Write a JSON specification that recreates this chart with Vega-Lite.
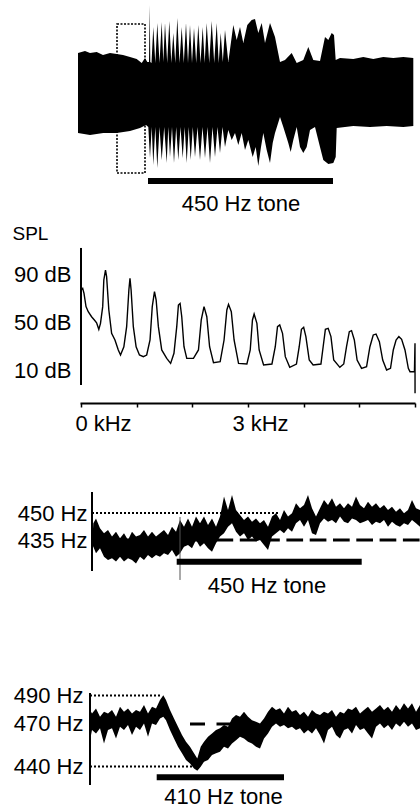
{
"$schema": "https://vega.github.io/schema/vega-lite/v6.json",
"background": "white",
"padding": {"left": 12, "top": 0, "right": 0, "bottom": 0},
"config": {"view": {"stroke": null}, "font": "Liberation Sans", "axis": {"grid": false, "labelColor": "black", "titleColor": "black", "labelFont": "Liberation Sans", "titleFont": "Liberation Sans"}},
"bounds": "flush",
"spacing": 0,
"datasets": {
"wave": [
{"side":"u","t":0,"amp":40},{"side":"u","t":7,"amp":42},{"side":"u","t":12,"amp":40},{"side":"u","t":18.7,"amp":41},{"side":"u","t":25,"amp":38},{"side":"u","t":32,"amp":40},{"side":"u","t":38.7,"amp":39},{"side":"u","t":45,"amp":38},{"side":"u","t":52,"amp":36},{"side":"u","t":58.7,"amp":34},{"side":"u","t":63.7,"amp":30},{"side":"u","t":67,"amp":35},{"side":"u","t":69.3,"amp":31},{"side":"u","t":71,"amp":31},{"side":"u","t":71.7,"amp":88},{"side":"u","t":72.3,"amp":31},{"side":"u","t":73.5,"amp":30},{"side":"u","t":75.3,"amp":66},{"side":"u","t":77.3,"amp":30},{"side":"u","t":79.3,"amp":70},{"side":"u","t":81.5,"amp":30},{"side":"u","t":83.7,"amp":71},{"side":"u","t":85.3,"amp":31},{"side":"u","t":87,"amp":70},{"side":"u","t":89.2,"amp":30},{"side":"u","t":91.3,"amp":72},{"side":"u","t":93.3,"amp":30},{"side":"u","t":95.3,"amp":60},{"side":"u","t":97.3,"amp":30},{"side":"u","t":99.3,"amp":75},{"side":"u","t":101.5,"amp":30},{"side":"u","t":103.7,"amp":66},{"side":"u","t":105.8,"amp":30},{"side":"u","t":108,"amp":70},{"side":"u","t":110,"amp":30},{"side":"u","t":112,"amp":68},{"side":"u","t":114,"amp":30},{"side":"u","t":116,"amp":65},{"side":"u","t":118.2,"amp":30},{"side":"u","t":120.3,"amp":68},{"side":"u","t":122.5,"amp":30},{"side":"u","t":124.7,"amp":66},{"side":"u","t":126.7,"amp":30},{"side":"u","t":128.7,"amp":70},{"side":"u","t":131.2,"amp":30},{"side":"u","t":133.7,"amp":72},{"side":"u","t":136.2,"amp":30},{"side":"u","t":138.7,"amp":70},{"side":"u","t":140.7,"amp":30},{"side":"u","t":142.7,"amp":60},{"side":"u","t":144.8,"amp":31},{"side":"u","t":147,"amp":63},{"side":"u","t":150.3,"amp":31},{"side":"u","t":155.3,"amp":68},{"side":"u","t":158.7,"amp":53},{"side":"u","t":162,"amp":66},{"side":"u","t":165.3,"amp":50},{"side":"u","t":169.3,"amp":68},{"side":"u","t":173.7,"amp":73},{"side":"u","t":177,"amp":74},{"side":"u","t":180.3,"amp":60},{"side":"u","t":183.7,"amp":70},{"side":"u","t":187,"amp":50},{"side":"u","t":192,"amp":70},{"side":"u","t":197,"amp":56},{"side":"u","t":202,"amp":31},{"side":"u","t":207,"amp":33},{"side":"u","t":213.7,"amp":40},{"side":"u","t":218.7,"amp":30},{"side":"u","t":225.3,"amp":33},{"side":"u","t":230.3,"amp":46},{"side":"u","t":235.3,"amp":33},{"side":"u","t":242,"amp":32},{"side":"u","t":247,"amp":56},{"side":"u","t":250.3,"amp":53},{"side":"u","t":253.7,"amp":60},{"side":"u","t":256,"amp":58},{"side":"u","t":257.7,"amp":33},{"side":"u","t":262,"amp":35},{"side":"u","t":275.3,"amp":34},{"side":"u","t":285.3,"amp":36},{"side":"u","t":295.3,"amp":34},{"side":"u","t":305.3,"amp":36},{"side":"u","t":315.3,"amp":35},{"side":"u","t":325.3,"amp":36},{"side":"u","t":335.3,"amp":35},
{"side":"l","t":0,"amp":-40},{"side":"l","t":12,"amp":-42},{"side":"l","t":25.3,"amp":-40},{"side":"l","t":38.7,"amp":-40},{"side":"l","t":52,"amp":-38},{"side":"l","t":62,"amp":-35},{"side":"l","t":68,"amp":-32},{"side":"l","t":70.3,"amp":-34},{"side":"l","t":72,"amp":-65},{"side":"l","t":73.7,"amp":-34},{"side":"l","t":75.3,"amp":-72},{"side":"l","t":77.3,"amp":-34},{"side":"l","t":79.3,"amp":-75},{"side":"l","t":81.5,"amp":-34},{"side":"l","t":83.7,"amp":-67},{"side":"l","t":86.2,"amp":-34},{"side":"l","t":88.7,"amp":-70},{"side":"l","t":90.3,"amp":-34},{"side":"l","t":92,"amp":-64},{"side":"l","t":94,"amp":-34},{"side":"l","t":96,"amp":-70},{"side":"l","t":98.2,"amp":-34},{"side":"l","t":100.3,"amp":-67},{"side":"l","t":102.5,"amp":-34},{"side":"l","t":104.7,"amp":-65},{"side":"l","t":106.7,"amp":-34},{"side":"l","t":108.7,"amp":-70},{"side":"l","t":110.7,"amp":-34},{"side":"l","t":112.7,"amp":-67},{"side":"l","t":114.8,"amp":-34},{"side":"l","t":117,"amp":-64},{"side":"l","t":119.5,"amp":-34},{"side":"l","t":122,"amp":-67},{"side":"l","t":124.5,"amp":-34},{"side":"l","t":127,"amp":-65},{"side":"l","t":129.5,"amp":-34},{"side":"l","t":132,"amp":-70},{"side":"l","t":134.5,"amp":-34},{"side":"l","t":137,"amp":-64},{"side":"l","t":139.5,"amp":-34},{"side":"l","t":142,"amp":-60},{"side":"l","t":144.5,"amp":-34},{"side":"l","t":147,"amp":-54},{"side":"l","t":150.3,"amp":-37},{"side":"l","t":153.7,"amp":-47},{"side":"l","t":157,"amp":-40},{"side":"l","t":160.3,"amp":-52},{"side":"l","t":163.7,"amp":-40},{"side":"l","t":167,"amp":-57},{"side":"l","t":170.3,"amp":-47},{"side":"l","t":174.7,"amp":-64},{"side":"l","t":177.7,"amp":-54},{"side":"l","t":180.3,"amp":-73},{"side":"l","t":183,"amp":-54},{"side":"l","t":185.3,"amp":-40},{"side":"l","t":188.7,"amp":-57},{"side":"l","t":192,"amp":-70},{"side":"l","t":194.7,"amp":-50},{"side":"l","t":197,"amp":-40},{"side":"l","t":202,"amp":-24},{"side":"l","t":205.3,"amp":-34},{"side":"l","t":210.3,"amp":-50},{"side":"l","t":212.7,"amp":-59},{"side":"l","t":215.3,"amp":-47},{"side":"l","t":218.7,"amp":-34},{"side":"l","t":222,"amp":-54},{"side":"l","t":225.3,"amp":-60},{"side":"l","t":228.7,"amp":-54},{"side":"l","t":232,"amp":-37},{"side":"l","t":237,"amp":-34},{"side":"l","t":242,"amp":-54},{"side":"l","t":245.3,"amp":-67},{"side":"l","t":250.3,"amp":-71},{"side":"l","t":255.3,"amp":-70},{"side":"l","t":257.7,"amp":-64},{"side":"l","t":258.7,"amp":-35},{"side":"l","t":275.3,"amp":-33},{"side":"l","t":292,"amp":-34},{"side":"l","t":308.7,"amp":-33},{"side":"l","t":325.3,"amp":-34},{"side":"l","t":335.3,"amp":-33}
],
"box": [{"t1": 39, "t2": 67, "a1": 69, "a2": -80}],
"tone1": [{"start": 70, "end": 255, "level": -88, "mid": 163, "label": "450 Hz tone"}],
"spectrum": [
{"kHz":0,"dB":76.7},{"kHz":0.03,"dB":78.1},{"kHz":0.054,"dB":73.9},{"kHz":0.09,"dB":62.8},{"kHz":0.13,"dB":58.6},{"kHz":0.19,"dB":54.4},{"kHz":0.24,"dB":51.7},{"kHz":0.28,"dB":49.4},{"kHz":0.32,"dB":43.9},{"kHz":0.35,"dB":48.9},{"kHz":0.39,"dB":62.8},{"kHz":0.41,"dB":85},{"kHz":0.44,"dB":93.3},{"kHz":0.46,"dB":87.8},{"kHz":0.5,"dB":60},{"kHz":0.55,"dB":40.6},{"kHz":0.61,"dB":35},{"kHz":0.67,"dB":26.7},{"kHz":0.71,"dB":22.5},{"kHz":0.77,"dB":29.4},{"kHz":0.82,"dB":46.1},{"kHz":0.86,"dB":76.7},{"kHz":0.88,"dB":86.4},{"kHz":0.9,"dB":76.7},{"kHz":0.94,"dB":46.1},{"kHz":0.99,"dB":29.4},{"kHz":1.05,"dB":22.5},{"kHz":1.12,"dB":21.1},{"kHz":1.18,"dB":22.5},{"kHz":1.24,"dB":35},{"kHz":1.28,"dB":62.8},{"kHz":1.32,"dB":75.3},{"kHz":1.35,"dB":68.3},{"kHz":1.39,"dB":46.1},{"kHz":1.45,"dB":26.7},{"kHz":1.54,"dB":19.7},{"kHz":1.61,"dB":15.5},{"kHz":1.67,"dB":23.9},{"kHz":1.72,"dB":46.1},{"kHz":1.75,"dB":64.2},{"kHz":1.78,"dB":65.5},{"kHz":1.81,"dB":54.4},{"kHz":1.85,"dB":29.4},{"kHz":1.9,"dB":19.7},{"kHz":2.02,"dB":19.7},{"kHz":2.11,"dB":26.7},{"kHz":2.16,"dB":51.7},{"kHz":2.21,"dB":62.8},{"kHz":2.26,"dB":54.4},{"kHz":2.31,"dB":29.4},{"kHz":2.38,"dB":16.1},{"kHz":2.5,"dB":17},{"kHz":2.57,"dB":35},{"kHz":2.62,"dB":60},{"kHz":2.65,"dB":64.7},{"kHz":2.7,"dB":58.6},{"kHz":2.75,"dB":35},{"kHz":2.83,"dB":15.5},{"kHz":2.98,"dB":15},{"kHz":3.04,"dB":26.7},{"kHz":3.08,"dB":51.7},{"kHz":3.11,"dB":56.7},{"kHz":3.16,"dB":48.9},{"kHz":3.2,"dB":26.7},{"kHz":3.28,"dB":14.2},{"kHz":3.43,"dB":15},{"kHz":3.49,"dB":29.4},{"kHz":3.53,"dB":46.1},{"kHz":3.57,"dB":47.5},{"kHz":3.62,"dB":40.6},{"kHz":3.67,"dB":21.1},{"kHz":3.75,"dB":12.2},{"kHz":3.87,"dB":15},{"kHz":3.92,"dB":29.4},{"kHz":3.96,"dB":43.9},{"kHz":4.0,"dB":45.6},{"kHz":4.04,"dB":37.8},{"kHz":4.1,"dB":18.3},{"kHz":4.17,"dB":14.2},{"kHz":4.31,"dB":15},{"kHz":4.35,"dB":29.4},{"kHz":4.39,"dB":43.9},{"kHz":4.44,"dB":44.7},{"kHz":4.49,"dB":37.8},{"kHz":4.54,"dB":18.3},{"kHz":4.65,"dB":12.2},{"kHz":4.72,"dB":15},{"kHz":4.77,"dB":29.4},{"kHz":4.82,"dB":41.9},{"kHz":4.86,"dB":42.8},{"kHz":4.91,"dB":35},{"kHz":4.96,"dB":18.3},{"kHz":5.04,"dB":11.4},{"kHz":5.13,"dB":12.8},{"kHz":5.19,"dB":29.4},{"kHz":5.25,"dB":39.2},{"kHz":5.3,"dB":40},{"kHz":5.36,"dB":33.6},{"kHz":5.42,"dB":18.3},{"kHz":5.49,"dB":10},{"kHz":5.56,"dB":11.4},{"kHz":5.61,"dB":26.7},{"kHz":5.66,"dB":35},{"kHz":5.71,"dB":37.8},{"kHz":5.76,"dB":35.6},{"kHz":5.82,"dB":26.7},{"kHz":5.88,"dB":11.4},{"kHz":5.91,"dB":8.6},{"kHz":5.99,"dB":8.6},{"kHz":6.0,"dB":32.2},{"kHz":6.001,"dB":-9.4}
],
"band3": [
{"t":12.5,"hi":436,"lo":432},{"t":13.3,"hi":444.3,"lo":431.3},{"t":16,"hi":447,"lo":427.6},{"t":20,"hi":441.5,"lo":430.4},{"t":24,"hi":438.7,"lo":425.7},{"t":28,"hi":440.6,"lo":423.9},{"t":32,"hi":436.9,"lo":424.8},{"t":36,"hi":439.6,"lo":423},{"t":40,"hi":436,"lo":425.7},{"t":44,"hi":438.7,"lo":423},{"t":48,"hi":435,"lo":424.8},{"t":52,"hi":439.6,"lo":423.9},{"t":56,"hi":436.9,"lo":422},{"t":60,"hi":437.8,"lo":425.7},{"t":64,"hi":440.6,"lo":423.9},{"t":68,"hi":436.9,"lo":426.7},{"t":72,"hi":439.6,"lo":424.8},{"t":76,"hi":436.9,"lo":426.7},{"t":80,"hi":438.7,"lo":425.7},{"t":84,"hi":440.6,"lo":427.6},{"t":88,"hi":437.8,"lo":426.7},{"t":92,"hi":442.4,"lo":429.4},{"t":96,"hi":439.6,"lo":425.7},{"t":100,"hi":446.1,"lo":427.6},{"t":104,"hi":442.4,"lo":431.3},{"t":108,"hi":447,"lo":432.2},{"t":112,"hi":442.4,"lo":430.4},{"t":116,"hi":448,"lo":435},{"t":120,"hi":444.3,"lo":431.3},{"t":124,"hi":448,"lo":433.2},{"t":128,"hi":443.3,"lo":430.4},{"t":132,"hi":447,"lo":428.5},{"t":136,"hi":442.4,"lo":433.2},{"t":140,"hi":448,"lo":436.9},{"t":144,"hi":459.1,"lo":438.7},{"t":148,"hi":451.7,"lo":442.4},{"t":152,"hi":460,"lo":444.3},{"t":156,"hi":451.7,"lo":439.6},{"t":160,"hi":448.9,"lo":436.9},{"t":164,"hi":446.1,"lo":438.7},{"t":168,"hi":448,"lo":435},{"t":172,"hi":445.2,"lo":436.9},{"t":176,"hi":447,"lo":434.1},{"t":180,"hi":444.3,"lo":435},{"t":184,"hi":446.1,"lo":432.2},{"t":188,"hi":442.4,"lo":429.4},{"t":192,"hi":448,"lo":436.9},{"t":196,"hi":449.8,"lo":438.7},{"t":200,"hi":446.1,"lo":440.6},{"t":204,"hi":451.7,"lo":438.7},{"t":208,"hi":448,"lo":441.5},{"t":212,"hi":449.8,"lo":439.6},{"t":216,"hi":455.4,"lo":444.3},{"t":220,"hi":452.6,"lo":446.1},{"t":224,"hi":454.5,"lo":442.4},{"t":228,"hi":460,"lo":446.1},{"t":232,"hi":452.6,"lo":438.7},{"t":236,"hi":448,"lo":437.8},{"t":240,"hi":452.6,"lo":444.3},{"t":244,"hi":457.2,"lo":447},{"t":248,"hi":454.5,"lo":445.2},{"t":252,"hi":458.2,"lo":446.1},{"t":256,"hi":453.5,"lo":444.3},{"t":260,"hi":455.4,"lo":448},{"t":264,"hi":452.6,"lo":445.2},{"t":268,"hi":455.4,"lo":444.3},{"t":272,"hi":453.5,"lo":447},{"t":276,"hi":459.1,"lo":446.1},{"t":280,"hi":454.5,"lo":444.3},{"t":284,"hi":452.6,"lo":445.2},{"t":288,"hi":456.3,"lo":446.1},{"t":292,"hi":453.5,"lo":443.3},{"t":296,"hi":455.4,"lo":445.2},{"t":300,"hi":452.6,"lo":444.3},{"t":304,"hi":454.5,"lo":446.1},{"t":308,"hi":451.7,"lo":442.4},{"t":312,"hi":453.5,"lo":445.2},{"t":316,"hi":450.7,"lo":443.3},{"t":320,"hi":452.6,"lo":442.4},{"t":324,"hi":449.8,"lo":444.3},{"t":328,"hi":451.7,"lo":443.3},{"t":332,"hi":457.2,"lo":446.1},{"t":336,"hi":452.6,"lo":444.3},{"t":340,"hi":451.7,"lo":442.4}
],
"tone3": [{"start": 96.7, "end": 281.7, "level": 422.9, "mid": 187, "label": "450 Hz tone"}],
"band4": [
{"t":10,"hi":479.8,"lo":458.6},{"t":12,"hi":477.4,"lo":465.7},{"t":16,"hi":480.9,"lo":463.3},{"t":20,"hi":475.1,"lo":466.9},{"t":24,"hi":478.6,"lo":456.3},{"t":28,"hi":477.4,"lo":465.7},{"t":32,"hi":479.8,"lo":466.9},{"t":36,"hi":475.1,"lo":459.8},{"t":40,"hi":482.1,"lo":468},{"t":44,"hi":478.6,"lo":465.7},{"t":48,"hi":480.9,"lo":469.2},{"t":52,"hi":477.4,"lo":462.2},{"t":56,"hi":479.8,"lo":468},{"t":60,"hi":478.6,"lo":465.7},{"t":64,"hi":483.3,"lo":470.4},{"t":68,"hi":477.4,"lo":461},{"t":72,"hi":482.1,"lo":470.4},{"t":76,"hi":480.9,"lo":469.2},{"t":80,"hi":486.8,"lo":473.9},{"t":83.3,"hi":490.3,"lo":475.1},{"t":86,"hi":486.8,"lo":472.7},{"t":90,"hi":479.8,"lo":465.7},{"t":94,"hi":473.9,"lo":459.8},{"t":98,"hi":468,"lo":453.9},{"t":102,"hi":462.2,"lo":449.3},{"t":106,"hi":457.5,"lo":444.6},{"t":110,"hi":453.9,"lo":442.2},{"t":114,"hi":449.3,"lo":438.7},{"t":117.3,"hi":445.7,"lo":437.1},{"t":120.7,"hi":453.9,"lo":439.9},{"t":124,"hi":457.5,"lo":443.4},{"t":128,"hi":461,"lo":444.6},{"t":132,"hi":463.3,"lo":448.1},{"t":136,"hi":465.7,"lo":449.3},{"t":140,"hi":466.9,"lo":450.4},{"t":144,"hi":469.2,"lo":453.9},{"t":148,"hi":468,"lo":452.8},{"t":152,"hi":473.9,"lo":456.3},{"t":156,"hi":476.3,"lo":458.6},{"t":160,"hi":475.1,"lo":461},{"t":164,"hi":478.6,"lo":459.8},{"t":168,"hi":475.1,"lo":457.5},{"t":172,"hi":472.7,"lo":456.3},{"t":176,"hi":471.6,"lo":453.9},{"t":180,"hi":470.4,"lo":452.8},{"t":184,"hi":473.9,"lo":459.8},{"t":188,"hi":478.6,"lo":463.3},{"t":192,"hi":482.1,"lo":468},{"t":196,"hi":479.8,"lo":470.4},{"t":200,"hi":481,"lo":468},{"t":204,"hi":477.4,"lo":469.2},{"t":208,"hi":482.1,"lo":466.9},{"t":212,"hi":478.6,"lo":468},{"t":216,"hi":479.8,"lo":465.7},{"t":220,"hi":476.3,"lo":466.9},{"t":224,"hi":478.6,"lo":463.3},{"t":228,"hi":475.1,"lo":465.7},{"t":232,"hi":479.8,"lo":463.3},{"t":236,"hi":477.4,"lo":466.9},{"t":240,"hi":476.3,"lo":462.2},{"t":244,"hi":478.6,"lo":456.3},{"t":248,"hi":477.4,"lo":465.7},{"t":252,"hi":479.8,"lo":468},{"t":256,"hi":475.1,"lo":462.2},{"t":260,"hi":478.6,"lo":459.8},{"t":264,"hi":477.4,"lo":465.7},{"t":268,"hi":480.9,"lo":466.9},{"t":272,"hi":479.8,"lo":463.3},{"t":276,"hi":482.1,"lo":469.2},{"t":280,"hi":477.4,"lo":465.7},{"t":284,"hi":479.8,"lo":466.9},{"t":288,"hi":482.1,"lo":463.3},{"t":292,"hi":478.6,"lo":459.8},{"t":296,"hi":480.9,"lo":468},{"t":300,"hi":483.3,"lo":470.4},{"t":304,"hi":479.8,"lo":466.9},{"t":308,"hi":482.1,"lo":469.2},{"t":312,"hi":478.6,"lo":465.7},{"t":316,"hi":483.3,"lo":470.4},{"t":320,"hi":479.8,"lo":468},{"t":324,"hi":484.5,"lo":471.6},{"t":328,"hi":480.9,"lo":468},{"t":332,"hi":484.5,"lo":470.4},{"t":336,"hi":478.6,"lo":465.7},{"t":340,"hi":483.3,"lo":466.9}
],
"tone4": [{"start": 76.7, "end": 204, "level": 432.4, "mid": 143.5, "label": "410 Hz tone"}]
},
"vconcat": [
{
"width": 335, "height": 215,
"layer": [
{"data": {"name": "wave"}, "mark": {"type": "area", "color": "black"},
 "encoding": {
  "x": {"field": "t", "type": "quantitative", "scale": {"domain": [2, 337], "nice": false, "zero": false}, "axis": null},
  "y": {"field": "amp", "type": "quantitative", "scale": {"domain": [-122, 93], "nice": false}, "axis": null, "stack": null},
  "y2": {"datum": 0},
  "detail": {"field": "side", "type": "nominal"}}},
{"data": {"name": "box"}, "mark": {"type": "rect", "filled": false, "stroke": "black", "strokeWidth": 1.6, "strokeDash": [2, 1.5]},
 "encoding": {
  "x": {"field": "t1", "type": "quantitative", "scale": {"domain": [2, 337], "nice": false, "zero": false}, "axis": null},
  "x2": {"field": "t2"},
  "y": {"field": "a1", "type": "quantitative", "scale": {"domain": [-122, 93], "nice": false}, "axis": null},
  "y2": {"field": "a2"}}},
{"data": {"name": "tone1"}, "mark": {"type": "rule", "color": "black", "strokeWidth": 6},
 "encoding": {
  "x": {"field": "start", "type": "quantitative", "scale": {"domain": [2, 337], "nice": false, "zero": false}, "axis": null},
  "x2": {"field": "end"},
  "y": {"field": "level", "type": "quantitative", "scale": {"domain": [-122, 93], "nice": false}, "axis": null}}},
{"data": {"name": "tone1"}, "mark": {"type": "text", "color": "black", "fontSize": 22, "align": "center", "baseline": "middle", "dy": 23},
 "encoding": {
  "x": {"field": "mid", "type": "quantitative", "scale": {"domain": [2, 337], "nice": false, "zero": false}, "axis": null},
  "y": {"field": "level", "type": "quantitative", "scale": {"domain": [-122, 93], "nice": false}, "axis": null},
  "text": {"field": "label"}}}
]
},
{
"width": 335, "height": 230,
"layer": [
{"data": {"name": "spectrum"}, "mark": {"type": "line", "color": "black", "strokeWidth": 1.4},
 "encoding": {
  "x": {"field": "kHz", "type": "quantitative", "scale": {"domain": [-0.018, 6], "nice": false, "zero": false},
   "axis": {"orient": "bottom", "offset": -42, "values": [0, 1, 2, 3, 4, 5, 6], "title": null,
    "labelExpr": "datum.value == 0 || datum.value == 3 ? datum.value + ' kHz' : ''",
    "domainColor": "black", "domainWidth": 2, "tickColor": "black", "tickWidth": 1.5, "tickSize": 4,
    "labelFontSize": 22, "labelPadding": 6, "labelAlign": "center", "labelFlush": false, "labelOverlap": false,
    "labelOffset": {"condition": {"test": "datum.value == 0", "value": 22}, "value": 12}}},
  "y": {"field": "dB", "type": "quantitative", "scale": {"domain": [-52.5, 139.17], "nice": false, "zero": false},
   "axis": {"values": [90, 50, 10], "labelExpr": "datum.value + ' dB'", "domain": false, "ticks": false, "tickSize": 0,
    "labelPadding": 9, "labelFontSize": 22, "labelOverlap": false,
    "title": "SPL", "titleAngle": 0, "titleAlign": "left", "titleBaseline": "middle", "titleX": -68, "titleY": 18.5,
    "titleFontSize": 19, "titleFontWeight": "normal"}}}},
{"data": {"values": [{}]}, "mark": {"type": "rule", "color": "black", "strokeWidth": 2},
 "encoding": {
  "x": {"datum": 0, "type": "quantitative", "scale": {"domain": [-0.018, 6], "nice": false, "zero": false}},
  "y": {"datum": 111.7, "type": "quantitative", "scale": {"domain": [-52.5, 139.17], "nice": false, "zero": false}},
  "y2": {"datum": -2.5}}}
]
},
{
"width": 340, "height": 180,
"layer": [
{"data": {"name": "band3"}, "mark": {"type": "area", "color": "black"},
 "encoding": {
  "x": {"field": "t", "type": "quantitative", "scale": {"domain": [0, 340], "nice": false}, "axis": null},
  "y": {"field": "hi", "type": "quantitative", "scale": {"domain": [387.78, 487.78], "nice": false, "zero": false}, "stack": null,
   "axis": {"values": [450, 435], "labelExpr": "datum.value + ' Hz'", "domain": false, "ticks": false, "tickSize": 0,
    "labelPadding": -7, "labelFontSize": 22, "labelOverlap": false, "title": null}},
  "y2": {"field": "lo"}}},
{"data": {"values": [{}]}, "mark": {"type": "rule", "color": "black", "strokeWidth": 2, "strokeDash": [2, 2]},
 "encoding": {
  "x": {"datum": 12, "type": "quantitative", "scale": {"domain": [0, 340], "nice": false}, "axis": null},
  "x2": {"datum": 200},
  "y": {"datum": 450, "type": "quantitative", "scale": {"domain": [387.78, 487.78], "nice": false, "zero": false}}}},
{"data": {"values": [{}]}, "mark": {"type": "rule", "color": "black", "strokeWidth": 3, "strokeDash": [16.7, 6.6], "strokeDashOffset": 15.3},
 "encoding": {
  "x": {"datum": 12, "type": "quantitative", "scale": {"domain": [0, 340], "nice": false}, "axis": null},
  "x2": {"datum": 340},
  "y": {"datum": 435, "type": "quantitative", "scale": {"domain": [387.78, 487.78], "nice": false, "zero": false}}}},
{"data": {"values": [{}]}, "mark": {"type": "rule", "color": "black", "strokeWidth": 2},
 "encoding": {
  "x": {"datum": 12, "type": "quantitative", "scale": {"domain": [0, 340], "nice": false}, "axis": null},
  "y": {"datum": 461.7, "type": "quantitative", "scale": {"domain": [387.78, 487.78], "nice": false, "zero": false}},
  "y2": {"datum": 417.8}}},
{"data": {"values": [{}]}, "mark": {"type": "rule", "color": "#555555", "strokeWidth": 1},
 "encoding": {
  "x": {"datum": 100, "type": "quantitative", "scale": {"domain": [0, 340], "nice": false}, "axis": null},
  "y": {"datum": 447.8, "type": "quantitative", "scale": {"domain": [387.78, 487.78], "nice": false, "zero": false}},
  "y2": {"datum": 412.8}}},
{"data": {"name": "tone3"}, "mark": {"type": "rule", "color": "black", "strokeWidth": 6},
 "encoding": {
  "x": {"field": "start", "type": "quantitative", "scale": {"domain": [0, 340], "nice": false}, "axis": null},
  "x2": {"field": "end"},
  "y": {"field": "level", "type": "quantitative", "scale": {"domain": [387.78, 487.78], "nice": false, "zero": false}}}},
{"data": {"name": "tone3"}, "mark": {"type": "text", "color": "black", "fontSize": 22, "align": "center", "baseline": "middle", "dy": 24},
 "encoding": {
  "x": {"field": "mid", "type": "quantitative", "scale": {"domain": [0, 340], "nice": false}, "axis": null},
  "y": {"field": "level", "type": "quantitative", "scale": {"domain": [387.78, 487.78], "nice": false, "zero": false}},
  "text": {"field": "label"}}}
]
},
{
"width": 340, "height": 185,
"layer": [
{"data": {"name": "band4"}, "mark": {"type": "area", "color": "black"},
 "encoding": {
  "x": {"field": "t", "type": "quantitative", "scale": {"domain": [0, 340], "nice": false}, "axis": null},
  "y": {"field": "hi", "type": "quantitative", "scale": {"domain": [409.4, 539.7], "nice": false, "zero": false}, "stack": null,
   "axis": {"values": [490, 470, 440], "labelExpr": "datum.value + ' Hz'", "domain": false, "ticks": false, "tickSize": 0,
    "labelPadding": -3, "labelFontSize": 22, "labelOverlap": false, "title": null}},
  "y2": {"field": "lo"}}},
{"data": {"values": [{"hz": 490, "from": 10, "to": 81.7}, {"hz": 440, "from": 10, "to": 116.7}]}, "mark": {"type": "rule", "color": "black", "strokeWidth": 2, "strokeDash": [2, 2]},
 "encoding": {
  "x": {"field": "from", "type": "quantitative", "scale": {"domain": [0, 340], "nice": false}, "axis": null},
  "x2": {"field": "to"},
  "y": {"field": "hz", "type": "quantitative", "scale": {"domain": [409.4, 539.7], "nice": false, "zero": false}}}},
{"data": {"values": [{}]}, "mark": {"type": "rule", "color": "black", "strokeWidth": 3, "strokeDash": [15, 11.5]},
 "encoding": {
  "x": {"datum": 110, "type": "quantitative", "scale": {"domain": [0, 340], "nice": false}, "axis": null},
  "x2": {"datum": 152},
  "y": {"datum": 470, "type": "quantitative", "scale": {"domain": [409.4, 539.7], "nice": false, "zero": false}}}},
{"data": {"values": [{}]}, "mark": {"type": "rule", "color": "black", "strokeWidth": 2},
 "encoding": {
  "x": {"datum": 10, "type": "quantitative", "scale": {"domain": [0, 340], "nice": false}, "axis": null},
  "y": {"datum": 491.8, "type": "quantitative", "scale": {"domain": [409.4, 539.7], "nice": false, "zero": false}},
  "y2": {"datum": 427}}},
{"data": {"name": "tone4"}, "mark": {"type": "rule", "color": "black", "strokeWidth": 6},
 "encoding": {
  "x": {"field": "start", "type": "quantitative", "scale": {"domain": [0, 340], "nice": false}, "axis": null},
  "x2": {"field": "end"},
  "y": {"field": "level", "type": "quantitative", "scale": {"domain": [409.4, 539.7], "nice": false, "zero": false}}}},
{"data": {"name": "tone4"}, "mark": {"type": "text", "color": "black", "fontSize": 22, "align": "center", "baseline": "middle", "dy": 20},
 "encoding": {
  "x": {"field": "mid", "type": "quantitative", "scale": {"domain": [0, 340], "nice": false}, "axis": null},
  "y": {"field": "level", "type": "quantitative", "scale": {"domain": [409.4, 539.7], "nice": false, "zero": false}},
  "text": {"field": "label"}}}
]
}
]
}
